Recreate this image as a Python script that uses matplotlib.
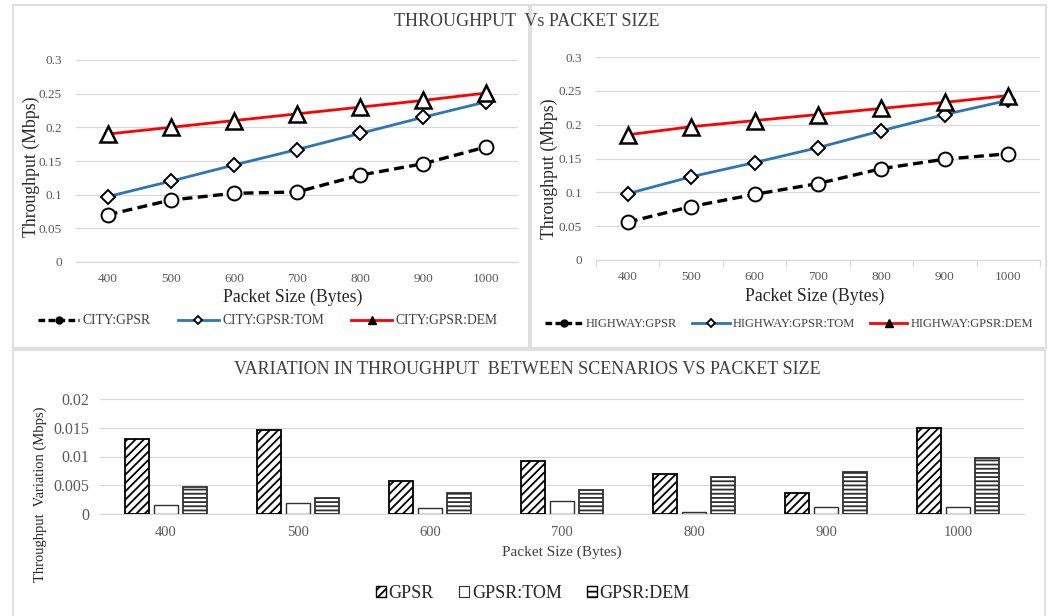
import matplotlib
matplotlib.use("Agg")
import matplotlib.pyplot as plt
from matplotlib.lines import Line2D
from matplotlib.patches import Rectangle, Patch
import numpy as np

# ---------------- data ----------------
packet_sizes = [400, 500, 600, 700, 800, 900, 1000]

city_gpsr = [0.070, 0.092, 0.102, 0.104, 0.129, 0.146, 0.171]
city_tom = [0.097, 0.120, 0.144, 0.167, 0.191, 0.215, 0.238]
city_dem = [0.190, 0.200, 0.210, 0.220, 0.230, 0.240, 0.251]

hw_gpsr = [0.056, 0.079, 0.097, 0.113, 0.135, 0.149, 0.157]
hw_tom = [0.098, 0.123, 0.144, 0.166, 0.191, 0.215, 0.236]
hw_dem = [0.185, 0.197, 0.206, 0.215, 0.224, 0.233, 0.243]

var_gpsr = [0.0131, 0.0146, 0.0057, 0.0093, 0.0070, 0.0037, 0.0149]
var_tom = [0.0015, 0.0019, 0.0010, 0.0023, 0.0003, 0.0013, 0.0012]
var_dem = [0.0047, 0.0027, 0.0037, 0.0041, 0.0064, 0.0073, 0.0097]

top_yticks = [0, 0.05, 0.1, 0.15, 0.2, 0.25, 0.3]
bot_yticks = [0, 0.005, 0.01, 0.015, 0.02]

# ---------------- style ----------------
plt.rcParams['font.family'] = ['Liberation Serif', 'DejaVu Serif']
plt.rcParams['hatch.linewidth'] = 1.3
W, H = 1053, 616
fig = plt.figure(figsize=(W / 100, H / 100), dpi=100)
fig.patch.set_facecolor('white')

def fx(px):
    return px / W

def fy(py):
    return 1 - py / H

def axrect(l, t, r, b):
    return [fx(l), fy(b), fx(r) - fx(l), fy(t) - fy(b)]

GRID = '#d9d9d9'
TICKC = '#595959'
TXT = '#404040'
BLUE = '#2E75B6'
RED = '#FF0000'

# panel frames
for (l, t, r, b) in [(13, 5, 529, 348), (531, 5, 1046, 348), (13, 350, 1045, 640)]:
    fig.add_artist(Rectangle((fx(l), fy(b)), fx(r) - fx(l), fy(t) - fy(b),
                             transform=fig.transFigure, fill=False,
                             edgecolor='#d9d9d9', linewidth=1.2))

def style_axes(ax, yticks, ylim, fs_xtick, fs_ytick, xpad, ypad):
    ax.set_ylim(*ylim)
    ax.set_yticks(yticks)
    ax.set_yticklabels(['{:g}'.format(v) for v in yticks])
    ax.grid(axis='y', color=GRID, linewidth=0.9)
    ax.set_axisbelow(True)
    for s in ['top', 'right', 'left']:
        ax.spines[s].set_visible(False)
    ax.spines['bottom'].set_color(GRID)
    ax.spines['bottom'].set_linewidth(0.9)
    ax.tick_params(axis='both', which='major', length=0, colors=TICKC)
    ax.tick_params(axis='x', pad=xpad, labelsize=fs_xtick)
    ax.tick_params(axis='y', pad=ypad, labelsize=fs_ytick)

x = np.arange(len(packet_sizes))

def line_chart(rect, gpsr, tom, dem, labels, legend_center, leg_fs, colsp):
    ax = fig.add_axes(rect)
    ax.plot(x, gpsr, color='black', linestyle=(0, (3, 1.6)), linewidth=2.4,
            marker='o', markersize=10, markerfacecolor='white',
            markeredgecolor='black', markeredgewidth=1.4, zorder=3)
    ax.plot(x, tom, color=BLUE, linewidth=2.0,
            marker='D', markersize=7, markerfacecolor='white',
            markeredgecolor='black', markeredgewidth=1.4, zorder=3)
    ax.plot(x, dem, color=RED, linewidth=2.0,
            marker='^', markersize=11, markerfacecolor='white',
            markeredgecolor='black', markeredgewidth=1.8, zorder=4)
    ax.set_xlim(-0.5, len(packet_sizes) - 0.5)
    ax.set_xticks(x)
    ax.set_xticklabels([str(p) for p in packet_sizes])
    style_axes(ax, top_yticks, (0, 0.3), 9.5, 9.5, 8, 10)
    handles = [
        Line2D([], [], color='black', linestyle=(0, (2, 1)), linewidth=2.4,
               marker='o', markersize=5, markerfacecolor='black',
               markeredgecolor='black'),
        Line2D([], [], color=BLUE, linewidth=2.0, marker='D', markersize=4,
               markerfacecolor='white', markeredgecolor='black', markeredgewidth=1.3),
        Line2D([], [], color=RED, linewidth=2.0, marker='^', markersize=6,
               markerfacecolor='black', markeredgecolor='black'),
    ]
    leg = fig.legend(handles, labels, loc='center', ncol=3,
                     bbox_to_anchor=(fx(legend_center[0]), fy(legend_center[1])),
                     frameon=False, fontsize=leg_fs, handlelength=3.0,
                     handletextpad=0.25, columnspacing=colsp)
    for t in leg.get_texts():
        t.set_color(TXT)
    return ax

ax1 = line_chart(axrect(76, 60, 518, 262), city_gpsr, city_tom, city_dem,
                 ['CITY:GPSR', 'CITY:GPSR:TOM', 'CITY:GPSR:DEM'], (268, 321), 9.8, 2.0)
ax2 = line_chart(axrect(596, 57, 1040, 260), hw_gpsr, hw_tom, hw_dem,
                 ['HIGHWAY:GPSR', 'HIGHWAY:GPSR:TOM', 'HIGHWAY:GPSR:DEM'], (789, 324), 9.0, 1.2)
# small category-boundary tick marks on the highway chart
ax2.set_xticks(np.arange(-0.5, len(packet_sizes)), minor=True)
ax2.tick_params(axis='x', which='minor', length=5, width=0.9, color=GRID, direction='out')

fig.text(fx(527), fy(22), 'THROUGHPUT  Vs PACKET SIZE', ha='center', va='center',
         fontsize=13, color=TXT)
fig.text(fx(293), fy(297), 'Packet Size (Bytes)', ha='center', va='center',
         fontsize=12.8, color='#262626')
fig.text(fx(815), fy(296), 'Packet Size (Bytes)', ha='center', va='center',
         fontsize=12.8, color='#262626')
fig.text(fx(31), fy(167), 'Throughput (Mbps)', ha='center', va='center',
         rotation=90, fontsize=12.8, color='#262626')
fig.text(fx(549), fy(169), 'Throughput (Mbps)', ha='center', va='center',
         rotation=90, fontsize=12.8, color='#262626')

# ---------------- bar chart ----------------
ax3 = fig.add_axes(axrect(100, 399, 1024, 514))
bw = 0.18
off = 0.22
ax3.bar(x - off, var_gpsr, bw, facecolor='white', edgecolor='black',
        hatch='////', linewidth=1.3, zorder=3)
ax3.bar(x, var_tom, bw, facecolor='white', edgecolor='#303030',
        linewidth=1.0, zorder=3)
ax3.bar(x + off, var_dem, bw, facecolor='white', edgecolor='#303030',
        hatch='----', linewidth=1.3, zorder=3)
ax3.set_xlim(-0.5, len(packet_sizes) - 0.5)
ax3.set_xticks(x)
ax3.set_xticklabels([str(p) for p in packet_sizes])
style_axes(ax3, bot_yticks, (0, 0.02), 10.5, 11.5, 9, 8)

fig.text(fx(527), fy(370), 'VARIATION IN THROUGHPUT  BETWEEN SCENARIOS VS PACKET SIZE',
         ha='center', va='center', fontsize=13, color=TXT)
fig.text(fx(562), fy(552), 'Packet Size (Bytes)', ha='center', va='center',
         fontsize=11, color=TXT)
fig.text(fx(40), fy(494), 'Throughput  Variation (Mbps)', ha='center', va='center',
         rotation=90, fontsize=10.5, color='#262626')

bar_handles = [
    Patch(facecolor='white', edgecolor='black', hatch='////', linewidth=1.0),
    Patch(facecolor='white', edgecolor='#303030', linewidth=0.8),
    Patch(facecolor='white', edgecolor='black', hatch='---', linewidth=1.0),
]
leg3 = fig.legend(bar_handles, ['GPSR', 'GPSR:TOM', 'GPSR:DEM'], loc='center', ncol=3,
                  bbox_to_anchor=(fx(533), fy(593)), frameon=False, fontsize=13,
                  handlelength=0.55, handleheight=0.55, handletextpad=0.15,
                  columnspacing=1.4)
for t in leg3.get_texts():
    t.set_color('#262626')

fig.savefig('out.png', dpi=100, facecolor='white')
